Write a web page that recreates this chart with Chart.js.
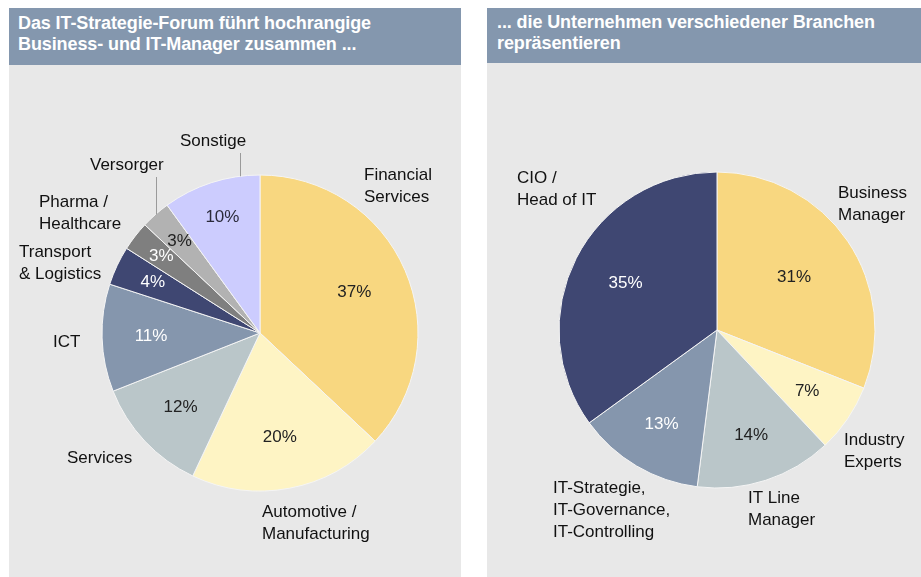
<!DOCTYPE html>
<html><head><meta charset="utf-8">
<script src="https://cdn.jsdelivr.net/npm/chart.js@4.4.1/dist/chart.umd.min.js"></script>
<style>
body{margin:0;background:#fff;width:921px;height:577px;overflow:hidden;position:relative;font-family:"Liberation Sans",Arial,sans-serif;}
.hdr{position:absolute;background:#8497ae;color:#fff;font-weight:bold;font-size:18px;line-height:21px;box-sizing:border-box;letter-spacing:-0.1px;}
.pbody{position:absolute;background:#e8e8e8;}
canvas{position:absolute;}
</style></head><body>
<div class="hdr" style="left:9px;top:8px;width:452px;height:57px;padding:5px 0 0 9px;">Das IT-Strategie-Forum führt hochrangige<br>Business- und IT-Manager zusammen ...</div>
<div class="pbody" style="left:9px;top:65px;width:452px;height:512px;"></div>
<canvas id="c1" width="452" height="512" style="left:9px;top:65px;"></canvas>
<div class="hdr" style="left:487px;top:8px;width:434px;height:55px;padding:4px 0 0 10px;">... die Unternehmen verschiedener Branchen<br>repräsentieren</div>
<div class="pbody" style="left:487px;top:63px;width:434px;height:514px;"></div>
<canvas id="c2" width="434" height="514" style="left:487px;top:63px;"></canvas>
<script>
// ---- data ----
const branchenLabels = [["Financial","Services"],["Automotive /","Manufacturing"],["Services"],["ICT"],["Transport","& Logistics"],["Pharma /","Healthcare"],["Versorger"],["Sonstige"]];
const branchenValues = [37,20,12,11,4,3,3,10];
const rollenLabels = [["Business","Manager"],["Industry","Experts"],["IT Line","Manager"],["IT-Strategie,","IT-Governance,","IT-Controlling"],["CIO /","Head of IT"]];
const rollenValues = [31,7,14,13,35];

// ---- styles ----
const branchenColors = ['#f8d780','#fef4c4','#bac6c9','#8596ad','#3f4772','#7f7f7f','#b2b2b2','#ccccfe'];
const rollenColors = ['#f8d780','#fef4c4','#bac6c9','#8596ad','#3f4772'];

const labelPlugin = {
  id:'pieLabels',
  afterDatasetsDraw(chart, args, o){
    const ctx = chart.ctx;
    const meta = chart.getDatasetMeta(0);
    const ds = chart.data.datasets[0];
    ctx.save();
    meta.data.forEach((arc,i)=>{
      const p = arc.getProps(['x','y','startAngle','endAngle','outerRadius'], true);
      const r = p.outerRadius, cx = p.x, cy = p.y;
      const mid = (p.startAngle+p.endAngle)/2;
      ctx.font = '17px "Liberation Sans", Arial, sans-serif';
      ctx.textBaseline = 'middle';
      ctx.textAlign = 'center';
      ctx.fillStyle = o.pctColor[i];
      ctx.fillText(ds.data[i]+'%', cx+Math.cos(mid)*r*o.pctK[i], cy+Math.sin(mid)*r*o.pctK[i]);
      ctx.textAlign = 'left';
      ctx.fillStyle = '#111';
      const np = o.namePos[i];
      chart.data.labels[i].forEach((ln,j)=>ctx.fillText(ln, cx+np[0], cy+np[1]+j*22));
      const ld = o.leaders && o.leaders[i];
      if(ld){
        const a = p.startAngle + (p.endAngle-p.startAngle)*ld.f;
        const x0 = cx+Math.cos(a)*r, y0 = cy+Math.sin(a)*r;
        ctx.strokeStyle = '#9a9a9a'; ctx.lineWidth = 1;
        ctx.beginPath(); ctx.moveTo(Math.round(x0)+0.5, y0); ctx.lineTo(Math.round(x0)+0.5, cy+ld.toDy); ctx.stroke();
      }
    });
    ctx.restore();
  }
};

function makePie(id, labels, values, colors, padding, pieOpts){
  return new Chart(document.getElementById(id), {
    type:'pie',
    data:{labels:labels, datasets:[{data:values, backgroundColor:colors, borderColor:'#f4f4f4', borderWidth:1, radius:158}]},
    options:{
      responsive:false, animation:false, events:[],
      layout:{padding:padding},
      plugins:{legend:{display:false}, tooltip:{enabled:false}, pieLabels:pieOpts}
    },
    plugins:[labelPlugin]
  });
}

makePie('c1', branchenLabels, branchenValues, branchenColors,
  {left:93, right:43, top:110, bottom:86},
  {
    pctK:[0.65,0.67,0.69,0.69,0.75,0.79,0.77,0.77],
    pctColor:['#222','#222','#222','#fff','#fff','#fff','#222','#2a2a3a'],
    namePos:[[104,-158],[2,179],[-193,125],[-207,9],[-241,-81],[-221,-131],[-170,-168],[-80,-192]],
    leaders:{6:{f:0.5,toDy:-156},7:{f:0.8,toDy:-180}}
  });

makePie('c2', rollenLabels, rollenValues, rollenColors,
  {left:72, right:46, top:109, bottom:89},
  {
    pctK:[0.59,0.69,0.70,0.69,0.65],
    pctColor:['#222','#222','#222','#fff','#fff'],
    namePos:[[121,-137],[127,110],[31,168],[-164,158],[-200,-152]]
  });
</script>
</body></html>
